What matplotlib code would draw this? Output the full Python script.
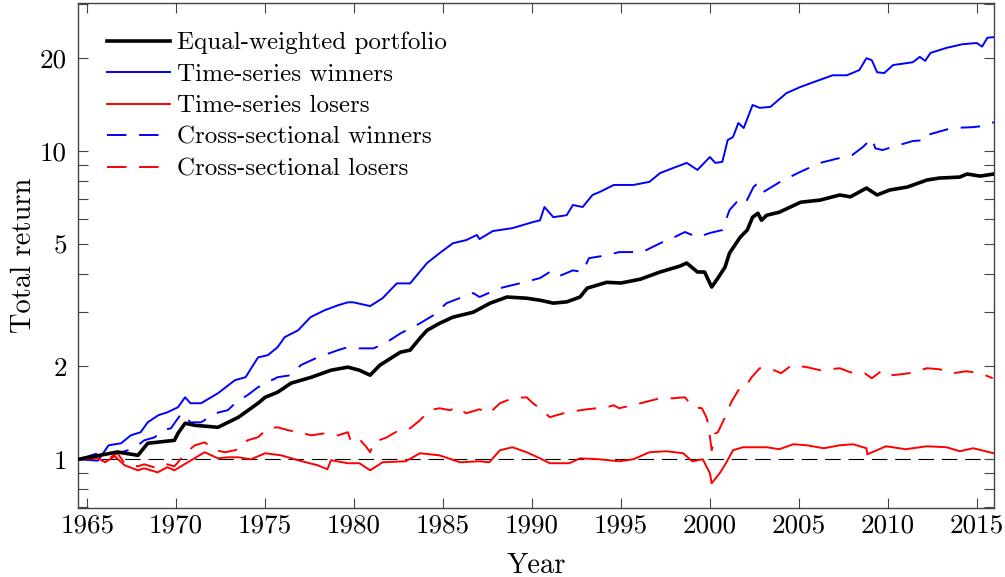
import matplotlib
matplotlib.use("Agg")
import matplotlib.pyplot as plt
from matplotlib.ticker import FixedLocator, FixedFormatter, NullFormatter

plt.rcParams['font.family'] = ['cmr10', 'DejaVu Serif']
plt.rcParams['mathtext.fontset'] = 'cm'
plt.rcParams['axes.formatter.use_mathtext'] = True

# ---------------- data ----------------
ew_years = [1964.5, 1966.7, 1967.85, 1968.4, 1969.9, 1970.1, 1970.5, 1971.05, 1972.35, 1973.5,
            1974.6, 1975.0, 1975.7, 1976.45, 1977.6, 1978.7, 1979.65, 1980.3, 1980.9, 1981.45,
            1982.6, 1983.15, 1983.7, 1984.1, 1984.8, 1985.55, 1986.7, 1987.65, 1988.6, 1989.7,
            1990.45, 1991.2, 1991.95, 1992.7, 1993.1, 1994.2, 1995.0, 1996.1, 1997.2, 1998.3,
            1998.7, 1999.3, 1999.7, 2000.1, 2000.45, 2000.85, 2001.1, 2001.7, 2002.1, 2002.4,
            2002.7, 2002.9, 2003.2, 2003.9, 2005.1, 2006.2, 2007.3, 2007.9, 2008.8, 2009.4,
            2010.1, 2011.1, 2012.2, 2012.9, 2014.05, 2014.45, 2015.2, 2015.95]
ew_values = [1.00, 1.056, 1.03, 1.127, 1.152, 1.214, 1.309, 1.289, 1.27, 1.369,
             1.52, 1.589, 1.65, 1.765, 1.846, 1.945, 1.99, 1.945, 1.874, 2.02,
             2.225, 2.26, 2.47, 2.62, 2.76, 2.89, 3.0, 3.21, 3.36, 3.33,
             3.28, 3.21, 3.24, 3.36, 3.59, 3.75, 3.73, 3.84, 4.05, 4.23,
             4.33, 4.05, 4.05, 3.62, 3.87, 4.2, 4.66, 5.25, 5.54, 6.1,
             6.28, 5.96, 6.19, 6.33, 6.82, 6.93, 7.2, 7.1, 7.58, 7.2,
             7.47, 7.64, 8.05, 8.17, 8.23, 8.42, 8.29, 8.42]

tsw_years = [1964.5, 1965.6, 1966.2, 1966.9, 1967.45, 1968.0, 1968.4, 1969.0, 1969.5, 1970.1,
             1970.5, 1970.8, 1971.4, 1972.35, 1973.3, 1973.9, 1974.6, 1975.15, 1975.7, 1976.1,
             1976.85, 1977.55, 1978.35, 1979.1, 1979.65, 1979.95, 1980.9, 1981.6, 1982.4, 1983.15,
             1984.1, 1984.8, 1985.55, 1986.3, 1986.9, 1987.05, 1987.8, 1988.9, 1990.05, 1990.45,
             1990.7, 1991.2, 1991.95, 1992.3, 1992.85, 1993.4, 1993.8, 1994.6, 1995.7, 1996.6,
             1997.2, 1998.1, 1998.7, 1999.3, 2000.0, 2000.3, 2000.7, 2001.0, 2001.3, 2001.6,
             2001.9, 2002.4, 2002.8, 2003.4, 2004.3, 2005.05, 2005.8, 2006.9, 2007.7, 2008.4,
             2008.8, 2009.1, 2009.4, 2009.8, 2010.3, 2011.4, 2011.8, 2012.1, 2012.4, 2013.3,
             2014.2, 2015.0, 2015.3, 2015.6, 2015.96]
tsw_values = [1.0, 0.99, 1.11, 1.127, 1.196, 1.224, 1.318, 1.39, 1.42, 1.475,
              1.589, 1.52, 1.52, 1.638, 1.805, 1.846, 2.14, 2.176, 2.31, 2.49,
              2.62, 2.89, 3.045, 3.16, 3.23, 3.23, 3.14, 3.33, 3.72, 3.72,
              4.33, 4.66, 5.02, 5.14, 5.34, 5.18, 5.5, 5.62, 5.88, 5.96,
              6.58, 6.1, 6.19, 6.68, 6.58, 7.2, 7.36, 7.76, 7.76, 7.94,
              8.48, 8.88, 9.15, 8.68, 9.56, 9.15, 9.22, 10.85, 11.1, 12.33,
              11.87, 14.1, 13.8, 13.9, 15.4, 16.1, 16.7, 17.6, 17.6, 18.3,
              20.0, 19.7, 18.0, 17.9, 19.0, 19.4, 20.2, 19.6, 20.8, 21.6,
              22.2, 22.4, 21.8, 23.3, 23.4]

tsl_years = [1964.5, 1965.6, 1966.0, 1966.55, 1967.1, 1967.85, 1968.2, 1968.95, 1969.5, 1969.9,
             1970.65, 1971.6, 1972.35, 1972.9, 1973.5, 1974.2, 1975.0, 1975.9, 1976.85, 1977.95,
             1978.5, 1978.7, 1979.65, 1980.3, 1980.9, 1981.6, 1982.9, 1983.7, 1984.8, 1985.95,
             1987.05, 1987.6, 1988.2, 1988.9, 1989.7, 1990.45, 1991.0, 1992.1, 1992.7, 1993.8,
             1994.9, 1995.7, 1996.6, 1997.55, 1998.5, 1999.0, 1999.6, 2000.0, 2000.1, 2000.55,
             2000.9, 2001.3, 2001.85, 2003.2, 2003.9, 2004.7, 2005.45, 2006.4, 2007.3, 2008.05,
             2008.8, 2008.85, 2009.9, 2011.0, 2012.2, 2013.3, 2014.05, 2014.8, 2015.96]
tsl_values = [1.0, 1.007, 0.978, 1.023, 0.956, 0.921, 0.935, 0.907, 0.942, 0.921,
              0.978, 1.054, 1.007, 1.015, 1.015, 1.0, 1.046, 1.03, 0.993, 0.956,
              0.928, 0.993, 0.971, 0.971, 0.921, 0.978, 0.985, 1.046, 1.03, 0.978,
              0.985, 0.978, 1.07, 1.094, 1.054, 1.007, 0.971, 0.971, 1.007, 1.0,
              0.985, 1.0, 1.054, 1.062, 1.046, 0.985, 1.0, 0.901, 0.836, 0.901,
              0.971, 1.07, 1.094, 1.094, 1.078, 1.119, 1.11, 1.086, 1.11, 1.119,
              1.086, 1.038, 1.102, 1.078, 1.102, 1.094, 1.062, 1.086, 1.046]

csw_years = [1964.5, 1965.6, 1966.7, 1967.3, 1967.85, 1968.2, 1968.8, 1969.2, 1969.7, 1970.3,
             1970.8, 1971.4, 1972.2, 1972.9, 1973.5, 1974.0, 1974.6, 1975.7, 1976.45, 1977.0,
             1977.95, 1979.1, 1979.65, 1980.0, 1981.1, 1981.85, 1982.6, 1983.7, 1984.45, 1985.2,
             1986.1, 1986.7, 1987.05, 1988.2, 1989.3, 1990.45, 1991.0, 1991.4, 1992.3, 1992.85,
             1993.2, 1994.2, 1994.9, 1996.2, 1997.2, 1997.9, 1998.6, 1999.3, 2000.0, 2000.7,
             2001.1, 2001.6, 2002.0, 2002.45, 2002.7, 2003.0, 2003.95, 2005.05, 2006.2, 2007.3,
             2008.0, 2008.6, 2009.1, 2009.3, 2009.7, 2010.5, 2011.4, 2012.1, 2012.2, 2013.6,
             2014.8, 2015.35, 2015.96]
csw_values = [1.0, 1.046, 1.046, 1.07, 1.11, 1.152, 1.179, 1.242, 1.26, 1.41,
              1.318, 1.318, 1.41, 1.443, 1.554, 1.613, 1.713, 1.846, 1.874, 2.02,
              2.14, 2.26, 2.31, 2.29, 2.29, 2.4, 2.56, 2.76, 2.93, 3.21,
              3.36, 3.46, 3.36, 3.59, 3.72, 3.87, 4.05, 3.9, 4.1, 4.05,
              4.49, 4.59, 4.7, 4.7, 5.02, 5.22, 5.46, 5.25, 5.42, 5.54,
              6.43, 6.93, 6.77, 7.64, 7.87, 7.36, 7.94, 8.54, 9.15, 9.49,
              9.7, 10.3, 11.0, 10.2, 10.07, 10.4, 10.77, 10.85, 11.26, 11.87,
              11.95, 12.05, 12.4]

csl_years = [1964.5, 1965.6, 1966.3, 1966.7, 1967.1, 1967.85, 1968.2, 1968.95, 1969.5, 1969.9,
             1970.1, 1970.5, 1971.05, 1971.6, 1972.2, 1972.75, 1973.3, 1973.65, 1974.0, 1974.6,
             1975.15, 1975.7, 1976.3, 1976.85, 1977.6, 1978.35, 1979.1, 1979.65, 1979.8, 1980.2,
             1980.7, 1980.9, 1981.1, 1981.85, 1982.6, 1983.15, 1983.5, 1983.7, 1984.25, 1984.8,
             1985.4, 1985.75, 1986.3, 1987.05, 1987.6, 1988.2, 1988.9, 1989.7, 1990.05, 1990.45,
             1991.0, 1991.95, 1993.1, 1994.2, 1994.6, 1994.9, 1996.1, 1997.2, 1997.9, 1998.6,
             1999.05, 1999.55, 1999.8, 1999.9, 2000.1, 2000.3, 2000.45, 2000.85, 2001.2, 2001.6,
             2001.9, 2002.35, 2002.8, 2003.35, 2004.0, 2004.6, 2005.45, 2006.2, 2007.3, 2008.05,
             2008.7, 2009.1, 2009.7, 2010.3, 2011.2, 2012.2, 2012.9, 2013.7, 2014.4, 2015.2,
             2015.9]
csl_values = [1.0, 1.015, 1.015, 1.046, 0.971, 0.949, 0.963, 0.935, 0.963, 0.949,
              0.978, 1.046, 1.11, 1.135, 1.07, 1.054, 1.07, 1.086, 1.152, 1.179,
              1.26, 1.27, 1.242, 1.224, 1.196, 1.214, 1.196, 1.224, 1.152, 1.179,
              1.094, 1.054, 1.135, 1.179, 1.251, 1.26, 1.309, 1.338, 1.443, 1.464,
              1.443, 1.475, 1.41, 1.453, 1.41, 1.52, 1.577, 1.589, 1.52, 1.464,
              1.369, 1.42, 1.453, 1.475, 1.497, 1.464, 1.52, 1.577, 1.577, 1.589,
              1.475, 1.464, 1.369, 1.309, 1.07, 1.214, 1.224, 1.369, 1.532, 1.675,
              1.687, 1.846, 1.974, 1.974, 1.902, 2.02, 1.99, 1.945, 1.974, 1.902,
              1.902, 1.832, 1.945, 1.874, 1.902, 1.974, 1.959, 1.902, 1.93, 1.902,
              1.832]

series_labels = ["Equal-weighted portfolio", "Time-series winners", "Time-series losers",
                 "Cross-sectional winners", "Cross-sectional losers"]
x_ticks = [1965, 1970, 1975, 1980, 1985, 1990, 1995, 2000, 2005, 2010, 2015]
y_ticks = [1, 2, 5, 10, 20]
y_tick_labels = ["1", "2", "5", "10", "20"]
y_minor_ticks = [0.7, 0.8, 0.9, 3, 4, 6, 7, 8, 9, 30]

# ---------------- figure ----------------
fig = plt.figure(figsize=(10.05, 5.77), dpi=100)
ax = fig.add_axes([78 / 1005, 1 - 508 / 577, (994 - 78) / 1005, (508 - 3) / 577])

ax.axhline(1.0, color='black', lw=0.8, dashes=(14, 7), zorder=1)

ax.plot(ew_years, ew_values, color='black', lw=2.6, label=series_labels[0], zorder=5)
ax.plot(tsw_years, tsw_values, color='#0000ff', lw=1.4, label=series_labels[1], zorder=4)
ax.plot(tsl_years, tsl_values, color='#ff0000', lw=1.4, label=series_labels[2], zorder=4)
ax.plot(csw_years, csw_values, color='#0000ff', lw=1.4, dashes=(10, 6.5),
        label=series_labels[3], zorder=3)
ax.plot(csl_years, csl_values, color='#ff0000', lw=1.4, dashes=(10, 6.5),
        label=series_labels[4], zorder=3)

ax.set_yscale('log')
ax.set_xlim(1964.48, 2015.97)
ax.set_ylim(0.695, 30.2)

ax.yaxis.set_major_locator(FixedLocator(y_ticks))
ax.yaxis.set_major_formatter(FixedFormatter(y_tick_labels))
ax.yaxis.set_minor_locator(FixedLocator(y_minor_ticks))
ax.yaxis.set_minor_formatter(NullFormatter())
ax.set_xticks(x_ticks)
ax.set_xticklabels([str(t) for t in x_ticks])

spine_col = '#444444'
for s in ax.spines.values():
    s.set_color(spine_col)
    s.set_linewidth(1.0)
ax.tick_params(which='both', direction='in', length=7, width=0.8, color=spine_col,
               top=True, right=True, labelsize=19.5)
ax.tick_params(axis='x', pad=4)
ax.tick_params(axis='y', pad=8)

ax.set_xlabel("Year", fontsize=20.5, labelpad=11)
ax.set_ylabel("Total return", fontsize=20.5, labelpad=2)

leg = ax.legend(loc='upper left', bbox_to_anchor=(0.032, 0.943), frameon=False,
                fontsize=18, handlelength=2.5, handletextpad=0.28, labelspacing=0.36,
                borderpad=0, borderaxespad=0)

fig.savefig("out.png", dpi=100)
